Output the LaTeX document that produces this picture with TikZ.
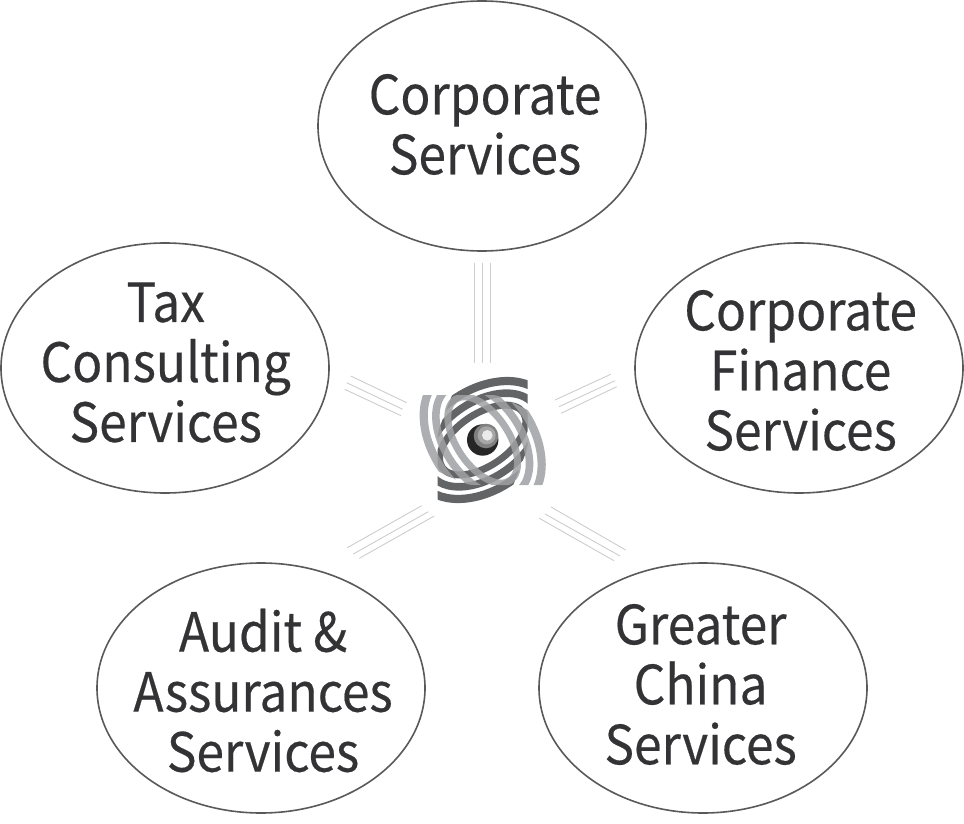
\documentclass[tikz,border=0pt]{standalone}
\usepackage{fontspec}
\setmainfont[FakeStretch=0.92,FakeBold=0.35]{Noto Sans CJK SC}
\definecolor{ink}{HTML}{333335}
\definecolor{rim}{HTML}{58595B}
\definecolor{spoke}{HTML}{CDCDCD}
\definecolor{darkband}{HTML}{636466}
\definecolor{lightband}{HTML}{9EA0A3}
\tikzset{
  service/.style={draw=rim,line width=1.6pt,ellipse,minimum width=328pt,minimum height=250pt,inner sep=0pt},
  caption/.style={text=ink,align=center,inner sep=0pt,font=\fontsize{54}{60}\selectfont},
  spokeline/.style={draw=spoke,line width=0.9pt}
}
\usetikzlibrary{shapes.geometric}
\begin{document}
\begin{tikzpicture}[x=1pt,y=-1pt]
\useasboundingbox (0,0) rectangle (964,824);
% ellipses
\node[service] (top) at (482,126) {};
\node[service] (left) at (165,368) {};
\node[service] (right) at (799,368) {};
\node[service] (bl) at (261,688) {};
\node[service] (br) at (703,688) {};
% captions
\node[caption] (ttop) at (485,124.5) {Corporate\\Services};
\node[caption] (tleft) at (165.7,362.5) {Tax\\Consulting\\Services};
\node[caption] (tright) at (800.6,370.5) {Corporate\\Finance\\Services};
\node[caption] (tbl) at (263,690.5) {Audit \&\\Assurances\\Services};
\node[caption] (tbr) at (700.6,684.5) {Greater\\China\\Services};
% spokes
\foreach \n/\ax/\ay/\bx/\by in {
 a1/474.3/263/474.3/363, a2/482.3/263/482.3/363, a3/490.3/263/490.3/363,
 b1/555/400/610.7/374.3, b2/559/406.7/615/380.7, b3/561/413.3/616.7/386.7,
 c1/350.7/376/406.7/402.7, c2/346.7/382.7/402.7/409.3, c3/344.7/389.3/401/415.7,
 d1/347.3/547.7/421.7/505.7, d2/353.3/554/428.3/511.7, d3/359.3/558.3/434.3/516,
 e1/625.7/550/551/507, e2/620/556/545/514, e3/614/560.7/539.3/518.3}{
  \coordinate (\n s) at (\ax,\ay);
  \coordinate (\n e) at (\bx,\by);
  \draw[spokeline] (\n s) -- (\n e);
}
% logo
\coordinate (hub) at (482.7,440);
\begin{scope}[shift={(hub)}]
\begin{scope}
\clip[rounded corners=6pt] (-22.7,-65) -- (45,-65) -- (45,8) -- (22.7,65) -- (-45,65) -- (-45,-8) -- cycle;
\begin{scope}[rotate=34]
\foreach \a/\b/\w in {75/50/8.2,62/38/7.6,49/26/7}
  \draw[darkband,line width=\w pt] (0,0) ellipse [x radius=\a pt,y radius=\b pt];
\end{scope}
\end{scope}
\begin{scope}[opacity=0.85]
\clip[rounded corners=6pt] (-65,22) -- (-65,-45) -- (15,-45) -- (65,-20) -- (65,45) -- (-15,45) -- cycle;
\begin{scope}[rotate=124]
\foreach \a/\b/\w in {75/50/8.2,62/38/7.6,49/26/7}
  \draw[lightband,line width=\w pt] (0,0) ellipse [x radius=\a pt,y radius=\b pt];
\end{scope}
\end{scope}
\end{scope}
\fill[white] (hub) circle (17.5);
\fill[black!85] (hub) circle (15.7);
\fill[black!50] (486,436) circle (12.3);
\fill[black!35] (486.7,435.3) circle (9);
\fill[black!8] (487.3,435.3) circle (5.3);
\end{tikzpicture}
\end{document}
